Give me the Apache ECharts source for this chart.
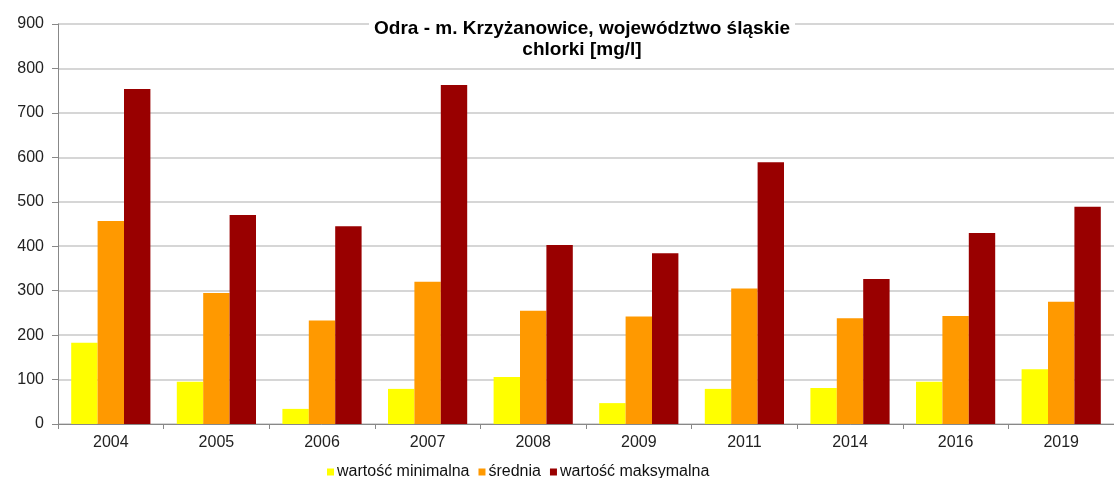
<!DOCTYPE html>
<html>
<head>
<meta charset="utf-8">
<script src="https://cdn.jsdelivr.net/npm/echarts@6/dist/echarts.min.js"></script>
<style>
html,body{margin:0;padding:0;background:#fff;}
#chart{width:1114px;height:478px;}
</style>
</head>
<body>
<div id="chart"></div>
<script>
const titleLines = ["Odra - m. Krzyżanowice, województwo śląskie", "chlorki [mg/l]"];
const categories = ["2004","2005","2006","2007","2008","2009","2011","2014","2016","2019"];
const seriesNames = ["wartość minimalna", "średnia", "wartość maksymalna"];
const minValues  = [183, 95, 34, 79, 106, 47, 79, 81, 95, 123];
const meanValues = [457, 295, 233, 320, 255, 242, 305, 238, 243, 275];
const maxValues  = [754, 470, 445, 763, 403, 384, 589, 326, 430, 489];
const colors = ["#ffff00", "#ff9900", "#990000"];
const yTicks = { min: 0, max: 900, interval: 100 };

const chart = echarts.init(document.getElementById('chart'));
const font = "'Liberation Sans', Arial, sans-serif";
chart.setOption({
  animation: false,
  textStyle: { fontFamily: font },
  title: {
    text: titleLines.join("\n"),
    left: 577,
    textAlign: 'center',
    top: 14,
    padding: [4, 5, 4, 5],
    backgroundColor: '#ffffff',
    textStyle: { fontFamily: font, fontSize: 19, fontWeight: 'bold', color: '#000', lineHeight: 21 }
  },
  legend: {
    top: 459,
    left: 322,
    itemWidth: 7,
    itemHeight: 7,
    itemGap: 9,
    icon: 'rect',
    textStyle: { fontFamily: font, fontSize: 16, color: '#111', padding: [0,0,0,-2] },
    data: seriesNames
  },
  grid: { left: 58, right: -12, top: 24, bottom: 54, containLabel: false },
  xAxis: {
    type: 'category',
    data: categories,
    axisLine: { lineStyle: { color: '#888', width: 1 } },
    axisTick: { show: true, length: 5, lineStyle: { color: '#888' } },
    axisLabel: { fontFamily: font, fontSize: 16, color: '#222', margin: 11 }
  },
  yAxis: {
    type: 'value',
    min: yTicks.min, max: yTicks.max, interval: yTicks.interval,
    axisLine: { show: true, lineStyle: { color: '#888', width: 1 } },
    axisTick: { show: true, length: 6, lineStyle: { color: '#888' } },
    splitLine: { lineStyle: { color: '#c8c8c8', width: 1.5 } },
    axisLabel: { fontFamily: font, fontSize: 16, color: '#222', margin: 14 }
  },
  series: [
    { name: seriesNames[0], type: 'bar', data: minValues, itemStyle: { color: colors[0] }, barGap: '0%', barCategoryGap: '25%' },
    { name: seriesNames[1], type: 'bar', data: meanValues, itemStyle: { color: colors[1] }, barGap: '0%', barCategoryGap: '25%' },
    { name: seriesNames[2], type: 'bar', data: maxValues, itemStyle: { color: colors[2] }, barGap: '0%', barCategoryGap: '25%' }
  ]
});
</script>
</body>
</html>
